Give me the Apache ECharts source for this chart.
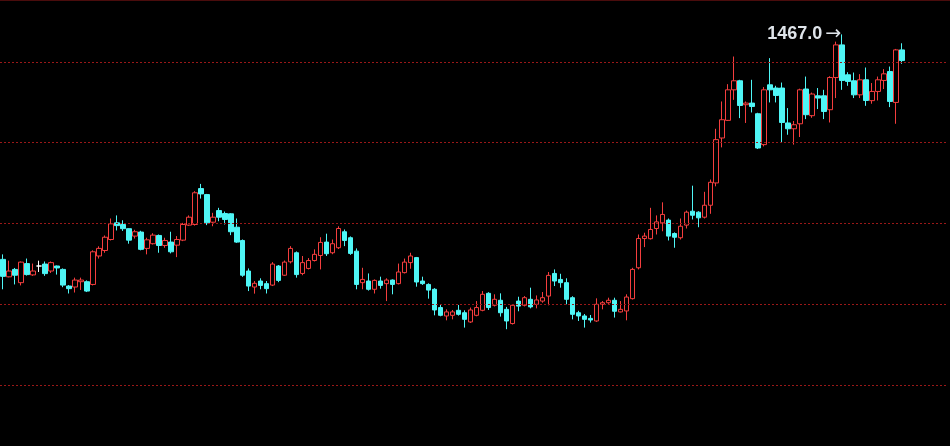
<!DOCTYPE html>
<html>
<head>
<meta charset="utf-8">
<style>
html,body{margin:0;padding:0;background:#000;}
#chart{width:950px;height:446px;}
</style>
<script src="https://cdn.jsdelivr.net/npm/echarts@6/dist/echarts.min.js"></script>
</head>
<body>
<div id="chart"></div>
<script>
// Candlestick values (open, close, low, high)
const opens = [1327.8,1317.0,1321.6,1313.4,1325.2,1318.2,1323.7,1324.9,1320.6,1323.7,
1321.6,1311.3,1310.7,1314.0,1314.0,1312.3,1329.9,1333.3,1340.1,1350.4,
1349.4,1346.8,1342.2,1344.7,1334.6,1337.5,1342.6,1336.4,1338.5,1336.6,
1339.7,1349.0,1349.4,1371.6,1367.9,1350.8,1358.0,1356.2,1356.0,1347.7,
1339.5,1320.6,1310.7,1314.4,1312.8,1311.9,1323.7,1318.0,1326.3,1331.9,
1319.1,1322.2,1327.1,1330.2,1338.5,1331.9,1335.0,1344.9,1341.2,1332.9,
1313.4,1314.4,1309.3,1314.4,1312.8,1315.0,1312.8,1319.6,1325.8,1328.9,
1314.4,1312.3,1309.3,1298.0,1292.8,1293.2,1296.3,1294.8,1289.1,1293.2,
1296.3,1306.8,1299.4,1302.5,1296.9,1288.1,1302.0,1299.4,1303.1,1300.0,
1302.0,1305.1,1319.1,1315.4,1313.4,1304.1,1294.8,1292.8,1291.3,1289.7,
1300.0,1301.0,1302.5,1295.3,1295.9,1303.5,1322.6,1340.7,1340.6,1346.9,
1350.4,1352.1,1343.8,1341.2,1349.0,1357.6,1357.0,1353.9,1361.3,1375.1,
1402.9,1413.8,1432.7,1438.3,1423.5,1424.5,1417.9,1398.8,1435.8,1433.8,
1433.8,1412.2,1408.6,1411.7,1433.2,1416.7,1429.0,1429.0,1420.4,1440.3,
1460.5,1442.0,1438.3,1429.6,1438.9,1426.0,1431.7,1438.5,1444.0,1424.9,
1457.4];
const closes = [1317.3,1320.6,1318.0,1326.1,1318.4,1320.6,1323.7,1319.0,1325.8,1322.5,
1311.9,1309.7,1315.0,1315.0,1308.2,1332.5,1334.6,1341.5,1349.8,1348.7,
1346.8,1339.7,1344.9,1334.0,1339.9,1342.8,1336.4,1339.5,1332.5,1340.1,
1349.4,1353.9,1369.0,1368.3,1350.4,1353.9,1353.9,1352.5,1344.9,1338.5,
1318.0,1311.3,1313.0,1311.7,1309.7,1324.9,1314.8,1326.1,1334.6,1318.4,
1325.8,1327.1,1330.9,1338.3,1331.3,1337.5,1346.9,1339.5,1331.5,1312.3,
1315.4,1309.3,1314.8,1311.7,1315.0,1312.3,1320.0,1326.1,1329.9,1313.8,
1312.8,1308.8,1296.5,1293.2,1295.3,1295.3,1293.8,1290.7,1296.5,1298.0,
1306.2,1298.0,1303.1,1294.8,1289.7,1299.4,1298.9,1304.1,1298.4,1302.7,
1304.1,1317.9,1314.4,1313.4,1303.1,1293.8,1292.8,1290.7,1290.3,1300.0,
1301.0,1302.5,1295.7,1296.9,1304.5,1321.6,1340.7,1342.2,1346.3,1351.0,
1355.6,1342.2,1341.5,1348.3,1357.0,1355.1,1353.5,1361.3,1375.5,1401.9,
1414.2,1432.7,1438.3,1423.0,1424.5,1422.4,1396.7,1432.7,1432.7,1429.2,
1412.5,1408.6,1411.1,1432.7,1417.3,1430.1,1427.6,1419.3,1440.3,1460.5,
1438.5,1437.9,1429.6,1438.9,1426.1,1431.7,1438.9,1442.6,1425.5,1457.4,
1450.8];
const lows = [1309.3,1316.7,1312.3,1311.7,1317.8,1317.6,1320.0,1317.6,1319.4,1318.4,
1310.6,1306.7,1307.3,1308.9,1307.6,1311.7,1328.3,1331.9,1339.5,1345.7,
1345.4,1337.5,1340.7,1333.4,1330.9,1337.0,1331.9,1335.0,1331.5,1329.2,
1339.1,1348.5,1348.7,1365.4,1349.0,1348.3,1351.4,1349.4,1342.8,1338.0,
1317.0,1308.2,1306.6,1309.3,1306.7,1311.3,1313.7,1317.6,1325.3,1316.5,
1318.0,1321.6,1326.5,1321.6,1329.9,1331.0,1334.2,1336.0,1330.6,1309.3,
1309.3,1308.5,1306.7,1309.7,1302.0,1306.2,1312.3,1319.1,1322.0,1310.9,
1312.0,1303.5,1293.2,1292.6,1290.1,1290.7,1293.0,1285.6,1288.5,1292.6,
1295.7,1296.5,1298.7,1292.4,1284.6,1287.5,1295.7,1298.7,1297.5,1297.5,
1301.0,1299.4,1311.3,1310.3,1300.0,1290.7,1289.7,1285.6,1288.7,1289.1,
1296.9,1300.3,1291.8,1295.0,1290.1,1303.0,1321.6,1335.4,1340.1,1343.2,
1345.2,1339.5,1335.0,1340.1,1346.9,1352.5,1347.7,1353.1,1356.0,1373.0,
1397.1,1413.4,1426.5,1415.2,1412.2,1418.7,1396.1,1397.7,1424.9,1424.9,
1399.8,1404.9,1398.8,1403.5,1414.6,1415.4,1420.8,1414.6,1412.5,1427.6,
1432.7,1435.2,1427.6,1427.6,1422.8,1424.1,1426.1,1433.2,1422.0,1411.7,
1448.8];
const highs = [1330.9,1327.0,1322.5,1326.5,1328.3,1325.2,1327.0,1326.5,1326.5,1324.0,
1322.2,1311.9,1316.5,1316.5,1314.8,1333.4,1335.9,1342.6,1353.1,1355.0,
1352.0,1347.0,1346.1,1345.5,1341.2,1344.0,1343.2,1341.2,1344.9,1342.2,
1350.4,1355.0,1370.0,1374.5,1368.3,1356.6,1359.7,1357.4,1356.4,1353.1,
1340.1,1322.2,1314.4,1316.1,1314.4,1326.1,1324.3,1327.1,1336.0,1332.7,
1329.9,1328.6,1334.0,1341.5,1343.7,1340.1,1348.3,1346.3,1342.0,1334.6,
1322.6,1319.1,1315.4,1317.1,1316.1,1315.4,1325.2,1328.3,1331.9,1329.3,
1317.1,1313.0,1310.0,1299.6,1296.9,1296.5,1299.6,1296.3,1298.0,1302.0,
1308.2,1307.5,1306.2,1306.8,1298.4,1300.0,1304.7,1305.1,1310.3,1305.5,
1307.6,1320.0,1321.6,1318.9,1316.1,1305.0,1296.0,1294.0,1293.4,1303.7,
1302.0,1304.1,1304.1,1302.0,1306.2,1322.6,1343.2,1344.3,1359.7,1355.0,
1363.1,1353.1,1344.5,1353.1,1358.0,1373.4,1357.6,1369.6,1377.2,1408.6,
1425.5,1436.2,1453.3,1438.9,1425.5,1438.9,1418.5,1434.4,1452.3,1435.2,
1437.2,1421.4,1413.4,1433.4,1440.9,1431.0,1433.8,1432.7,1441.1,1462.5,
1467.0,1443.6,1443.4,1442.4,1446.5,1436.9,1440.9,1445.5,1447.1,1458.0,
1461.5];
// price levels of the horizontal guide lines and the visible price window
const gridLevels = [1250, 1300, 1350, 1400, 1450];
const yMin = 1212.35, yMax = 1488.27;
const slotCount = 158; // trading-day slots along the x axis (last ones empty)
const categories = [];
for (let i = 0; i < slotCount; i++) categories.push(String(i + 1));

const candles = opens.map((o, i) => [o, closes[i], lows[i], highs[i]]);

const chart = echarts.init(document.getElementById('chart'), null, {renderer: 'canvas'});
chart.setOption({
  backgroundColor: '#000000',
  animation: false,
  grid: {left: -1, right: 3, top: 0, bottom: 0, containLabel: false},
  xAxis: {
    type: 'category', data: categories, boundaryGap: true,
    axisLine: {show: false}, axisTick: {show: false}, axisLabel: {show: false},
    splitLine: {show: false}
  },
  yAxis: {
    type: 'value', min: yMin, max: yMax,
    axisLine: {show: false}, axisTick: {show: false}, axisLabel: {show: false},
    splitLine: {show: false}
  },
  graphic: [{
    type: 'line', shape: {x1: 0, y1: 0.5, x2: 950, y2: 0.5},
    style: {stroke: '#4a0c0c', lineWidth: 1}, silent: true
  }],
  series: [{
    type: 'candlestick',
    data: candles,
    barWidth: 5,
    z: 3,
    itemStyle: {
      color: '#000000', color0: '#4ff6f6',
      borderColor: '#f43e3e', borderColor0: '#4ff6f6',
      borderColorDoji: '#ffffff', borderWidth: 1
    },
    markLine: {
      silent: true, symbol: ['none', 'none'], animation: false,
      label: {show: false},
      lineStyle: {color: '#9a1818', type: [2, 2], width: 1},
      emphasis: {disabled: true},
      data: gridLevels.map(v => ({yAxis: v}))
    },
    markPoint: {
      symbol: 'circle', symbolSize: 0,
      data: [{type: 'max', valueDim: 'highest'}],
      label: {
        show: true, position: 'left', distance: 1,
        formatter: p => '{v|' + Number(p.value).toFixed(1) + '}{a|→}',
        rich: {
          v: {color: '#dfe4ea', fontFamily: 'Liberation Sans, Arial, sans-serif', fontWeight: 'bold', fontSize: 18},
          a: {color: '#dfe4ea', fontFamily: 'DejaVu Sans, sans-serif', fontSize: 19, padding: [0, 0, 0, 3]}
        }
      }
    }
  }]
});
</script>
</body>
</html>
